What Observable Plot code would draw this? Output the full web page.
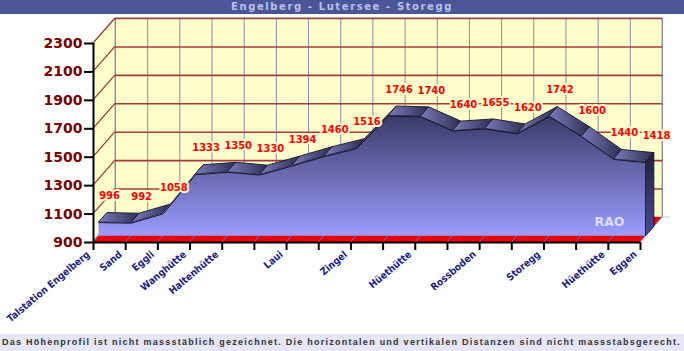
<!DOCTYPE html>
<html><head><meta charset="utf-8">
<script src="https://cdn.jsdelivr.net/npm/d3@7"></script>
<script src="https://cdn.jsdelivr.net/npm/@observablehq/plot@0.6"></script>
<style>
body{margin:0;background:#fff;width:684px;height:351px;overflow:hidden}
#title{height:14px;background:#4a5698;color:#b8c0ee;font:bold 10px 'DejaVu Sans';text-align:center;line-height:14px;white-space:nowrap}
#foot{height:17px;background:#e6e6f6;color:#333;font:bold 9px 'Liberation Sans';line-height:17px;white-space:nowrap;padding-left:2px;overflow:hidden}
#chart svg{display:block}
</style></head><body>
<div id="title"></div>
<div id="chart"></div>
<div id="foot"></div>
<script>
const stations = ["Talstation Engelberg","Sand","Eggli","Wanghütte","Haltenhütte","","Laui","","Zingel","","Hüethütte","","Rossboden","","Storegg","","Hüethütte","Eggen"];
const elevations = [996,992,1058,1333,1350,1330,1394,1460,1516,1746,1740,1640,1655,1620,1742,1600,1440,1418];
const yTicks = [900,1100,1300,1500,1700,1900,2100,2300];
const titleText = "Engelberg - Lutersee - Storegg";
const footnote = "Das Höhenprofil ist nicht massstäblich gezeichnet. Die horizontalen und vertikalen Distanzen sind nicht massstabsgerecht.";
const watermark = "RAO";

const rows = elevations.map((v, i) => ({i, v, name: stations[i]}));
const last = rows.length - 1;
const D = [22, -25];      // depth vector of the 3D box
const fA = 0.25, fB = 0.63; // front / back depth of the profile slab
const off = (p, f) => [p[0] + D[0] * f, p[1] + D[1] * f];

function custom(draw) {
  return function(index, scales) {
    const g = d3.create("svg:g");
    draw(g, scales.x, scales.y);
    return g.node();
  };
}
function poly(g, pts, attrs) {
  const p = g.append("polygon").attr("points", pts.map(q => q.join(",")).join(" "));
  for (const k in attrs) p.attr(k, attrs[k]);
  return p;
}
function seg(g, a, b, attrs) {
  const l = g.append("line").attr("x1", a[0]).attr("y1", a[1]).attr("x2", b[0]).attr("y2", b[1]);
  for (const k in attrs) l.attr(k, attrs[k]);
}

const defs = custom((g) => {
  const d = g.append("defs");
  const lg = (id, x2, y2, stops) => {
    const gr = d.append("linearGradient").attr("id", id).attr("x1", 0).attr("y1", 0).attr("x2", x2).attr("y2", y2);
    stops.forEach(([o, c]) => gr.append("stop").attr("offset", o).attr("stop-color", c));
  };
  lg("frontGrad", 0, 1, [[0, "#3a3a68"], [1, "#9c9cff"]]);
  lg("topGrad", 1, 0, [[0, "#7c7cbc"], [1, "#2e2e54"]]);
  lg("sideGrad", 0, 1, [[0, "#20203a"], [1, "#4c4c96"]]);
});

const walls = custom((g, x, y) => {
  const x0 = x(0), x1 = x(last), yb = y(900), yt = y(2300);
  poly(g, [[x0, yb], [x0, yt], off([x0, yt], 1), off([x0, yb], 1)], {fill: "#ffffcc"});
  poly(g, [off([x0, yt], 1), off([x1, yt], 1), off([x1, yb], 1), off([x0, yb], 1)], {fill: "#ffffcc", stroke: "#9a9aa8"});
});

const diagonals = custom((g, x, y) => {
  for (const t of yTicks) seg(g, [x(0), y(t)], off([x(0), y(t)], 1), {stroke: "#993333", "stroke-width": 1.2});
});

const floor = custom((g, x, y) => {
  const yb = y(900);
  poly(g, [[x(0), yb], [x(last), yb], off([x(last), yb], 1), off([x(0), yb], 1)], {fill: "#e80000"});
  for (const r of rows) seg(g, [x(r.i), yb], off([x(r.i), yb], 1), {stroke: "#6a7ad8", "stroke-width": 1});
  seg(g, off([x(last), yb], 1), [off([x(last), yb], 1)[0] + 8, off([x(last), yb], 1)[1]], {stroke: "#c8c8c8"});
});

const topFaces = custom((g, x, y) => {
  for (let k = 0; k < last; k++) {
    const a = [x(rows[k].i), y(rows[k].v)], b = [x(rows[k + 1].i), y(rows[k + 1].v)];
    poly(g, [off(a, fA), off(b, fA), off(b, fB), off(a, fB)],
      {fill: "url(#topGrad)", stroke: "#16162c", "stroke-width": 0.9, "stroke-linejoin": "round"});
  }
});

const sideFace = custom((g, x, y) => {
  const a = [x(last), y(elevations[last])], b = [x(last), y(900)];
  poly(g, [off(a, fA), off(a, fB), off(b, fB), off(b, fA)],
    {fill: "url(#sideGrad)", stroke: "#16162c", "stroke-width": 0.9});
});

const font = "'DejaVu Sans Condensed', 'DejaVu Sans'";

const chart = Plot.plot({
  width: 684, height: 320,
  marginTop: 29, marginBottom: 92, marginLeft: 93, marginRight: 44,
  style: {fontFamily: font, background: "white", overflow: "visible"},
  x: {type: "linear", domain: [0, last]},
  y: {domain: [900, 2300]},
  marks: [
    defs,
    walls,
    Plot.ruleX(rows, {x: "i", y1: 900, y2: 2300, dx: D[0], dy: D[1], stroke: "#8a8aa8", strokeWidth: 1}),
    Plot.ruleY(yTicks.slice(1), {y: d => d, x1: 0, x2: last, dx: D[0], dy: D[1], stroke: "#a03c3c", strokeWidth: 1.6}),
    diagonals,
    floor,
    topFaces,
    Plot.areaY(rows, {x: "i", y1: 900, y2: "v", dx: D[0] * fA, dy: D[1] * fA, fill: "url(#frontGrad)"}),
    Plot.lineY(rows, {x: "i", y: "v", dx: D[0] * fA, dy: D[1] * fA, stroke: "#16162c", strokeWidth: 1}),
    sideFace,
    Plot.ruleX([0], {y1: 900, y2: 2300, stroke: "black", strokeWidth: 2}),
    Plot.ruleY([900], {x1: 0, x2: last, stroke: "black", strokeWidth: 2}),
    Plot.axisY({ticks: yTicks, tickFormat: d => String(d), tickSize: 9, tickPadding: 2, strokeWidth: 2, stroke: "black",
      fill: "#7a0000", fontSize: 14, fontWeight: "bold", fontFamily: "'DejaVu Sans'", label: null}),
    Plot.axisX({ticks: rows.map(r => r.i), tickSize: 8, strokeWidth: 2, stroke: "black", tickFormat: () => "", label: null}),
    Plot.text(rows.filter(r => r.name), {x: "i", frameAnchor: "bottom", text: "name", rotate: -40, textAnchor: "end",
      dx: -3, dy: 13, fill: "#1c1c88", fontSize: 10, fontWeight: "bold"}),
    Plot.text(rows, {x: "i", y: "v", text: d => String(d.v), dx: 16, dy: -33, fill: "#ff0000", stroke: "#ffffcc",
      strokeWidth: 4, paintOrder: "stroke", fontSize: 11, fontWeight: "bold"}),
    Plot.text([watermark], {frameAnchor: "bottom-right", text: d => d, dx: -16, dy: -17, fill: "#dcdcfa",
      fontSize: 12.5, fontWeight: "bold", fontFamily: "'DejaVu Sans'"})
  ]
});
document.getElementById("chart").append(chart);

const ctx = document.createElement("canvas").getContext("2d");
const title = document.getElementById("title");
title.textContent = titleText;
ctx.font = "bold 10px 'DejaVu Sans'";
title.style.letterSpacing = ((222 - ctx.measureText(titleText).width) / titleText.length) + "px";
const foot = document.getElementById("foot");
foot.textContent = footnote;
ctx.font = "bold 9px 'Liberation Sans'";
foot.style.letterSpacing = ((679 - ctx.measureText(footnote).width) / footnote.length) + "px";
</script>
</body></html>
